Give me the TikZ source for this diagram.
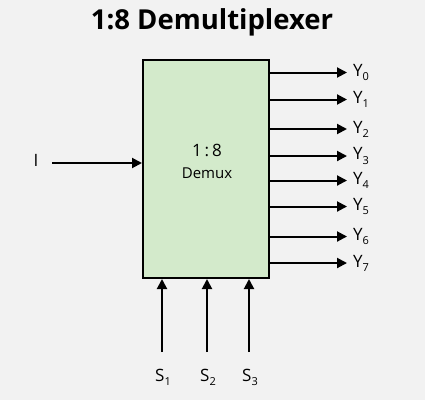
\documentclass[tikz,border=0pt]{standalone}
\usepackage{fontspec}
\setmainfont{Open Sans}
\usetikzlibrary{arrows.meta}
\definecolor{bgc}{HTML}{F2F2F2}
\definecolor{boxc}{HTML}{D3EACB}
\newcommand{\lsub}[2]{#1\raisebox{-0.45ex}{\fontsize{11}{11}\selectfont #2}}
\begin{document}
\begin{tikzpicture}[x=1pt,y=-1pt,
  wire/.style={line width=2pt,-{Triangle[length=10pt,width=10pt]}},
  lbl/.style={font=\fontsize{17}{19}\selectfont,inner sep=0pt}]
\fill[bgc] (0,0) rectangle (425,400);
\useasboundingbox (0,0) rectangle (425,400);
\node[font=\fontsize{27.5}{30}\selectfont\bfseries] (title) at (212,22) {1:8 Demultiplexer};
\node[draw,line width=2pt,fill=boxc,minimum width=126pt,minimum height=218pt,inner sep=0pt] (dm) at (206,169) {};
\node[font=\fontsize{17}{19}\selectfont] (t1) at (207,150) {1\,:\,8};
\node[font=\fontsize{15}{17}\selectfont] (t2) at (207,173) {Demux};
% input
\node[lbl] (in) at (36,160) {I};
\coordinate (inS) at (52,163);
\draw[wire] (inS) -- (dm.west |- inS);
% outputs
\foreach \i/\y in {0/72.5,1/99.5,2/129,3/156,4/180.5,5/206.5,6/236.5,7/263}{
  \coordinate (o\i) at (dm.east |- 0,\y);
  \node[lbl,anchor=west] (y\i) at (353,\y) {\lsub{Y}{\i}};
  \draw[wire,shorten >=6pt] (o\i) -- (y\i.west);
}
% selects
\foreach \i/\x in {1/162,2/207,3/249}{
  \coordinate (sb\i) at (\x,352);
  \node[lbl] (s\i) at (\x+1,377) {\lsub{S}{\i}};
  \draw[wire] (sb\i) -- (dm.south -| sb\i);
}
\end{tikzpicture}
\end{document}
